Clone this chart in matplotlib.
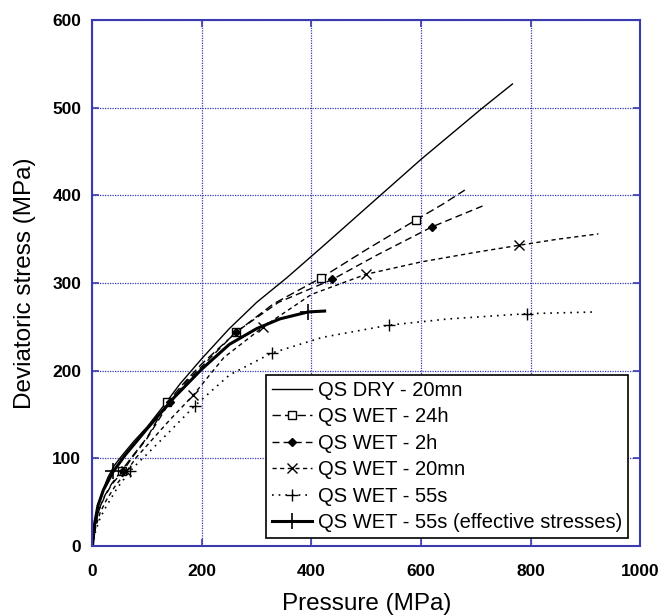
import numpy as np
import matplotlib
matplotlib.use("Agg")
import matplotlib.pyplot as plt

plt.rcParams["font.family"] = ["Liberation Sans", "DejaVu Sans"]

# Quasi-static triaxial tests: deviatoric stress vs mean pressure (MPa)
dry_x = [0, 4, 10, 18, 28, 40, 55, 75, 100, 130, 160, 200, 250, 300, 355, 421, 524, 600, 711, 767]
dry_y = [0, 25, 45, 62, 78, 92, 104, 119, 136, 160, 185, 214, 248, 278, 306, 342, 399, 441, 499, 527]

wet24h_x = [0, 5, 12, 22, 35, 53, 75, 100, 137, 170, 200, 263, 330, 418, 500, 591, 640, 680]
wet24h_y = [0, 24, 42, 57, 71, 86, 104, 124, 164, 188, 208, 244, 276, 306, 338, 372, 390, 406]
wet24h_mk = [53, 137, 263, 418, 591]

wet2h_x = [0, 5, 12, 22, 35, 55, 75, 100, 141, 170, 200, 262, 340, 438, 520, 620, 717]
wet2h_y = [0, 23, 41, 56, 70, 85, 103, 123, 164, 186, 205, 244, 278, 304, 332, 364, 389]
wet2h_mk = [55, 141, 262, 438, 620]

wet20_x = [0, 6, 14, 25, 40, 62, 80, 100, 140, 184, 240, 312, 400, 500, 600, 700, 779, 850, 924]
wet20_y = [0, 22, 38, 52, 67, 85, 101, 115, 143, 172, 215, 250, 287, 310, 324, 335, 343, 350, 356]
wet20_mk = [62, 184, 312, 500, 779]

wet55_x = [0, 6, 14, 25, 45, 68, 85, 100, 140, 187, 250, 327, 420, 542, 650, 793, 921]
wet55_y = [0, 18, 32, 45, 66, 85, 96, 105, 130, 160, 195, 220, 238, 252, 259, 265, 267]
wet55_mk = [68, 187, 327, 542, 793]

eff_x = [0, 4, 10, 20, 38, 60, 100, 150, 200, 250, 300, 342, 394, 424]
eff_y = [0, 26, 46, 64, 85, 104, 134, 170, 202, 230, 248, 259, 267, 268]
eff_mk = [38, 394]

labels = ["QS DRY - 20mn", "QS WET - 24h", "QS WET - 2h", "QS WET - 20mn",
          "QS WET - 55s", "QS WET - 55s (effective stresses)"]

blue = "#3b3bb0"

fig = plt.figure(figsize=(6.62, 6.15), dpi=100)
ax = fig.add_axes([0.1397, 0.1122, 0.8271, 0.8553])


def marks(xs, mk):
    return list(np.nonzero(np.isin(xs, mk))[0])


ax.plot(dry_x, dry_y, color="black", lw=1.0, label=labels[0])
ax.plot(wet24h_x, wet24h_y, color="black", lw=1.0, ls=(0, (6, 3)), marker="s",
        ms=6, mfc="white", mec="black", mew=1.0, markevery=marks(wet24h_x, wet24h_mk), label=labels[1])
ax.plot(wet2h_x, wet2h_y, color="black", lw=1.0, ls=(0, (5, 3)), marker="D",
        ms=4, mfc="black", markevery=marks(wet2h_x, wet2h_mk), label=labels[2])
ax.plot(wet20_x, wet20_y, color="black", lw=1.0, ls=(0, (3, 2.5)), marker="x",
        ms=7, mew=1.0, markevery=marks(wet20_x, wet20_mk), label=labels[3])
ax.plot(wet55_x, wet55_y, color="black", lw=1.2, ls=(0, (1, 3)), marker="+",
        ms=9, mew=1.0, markevery=marks(wet55_x, wet55_mk), label=labels[4])
ax.plot(eff_x, eff_y, color="black", lw=2.2, marker="+", ms=11, mew=1.2,
        markevery=marks(eff_x, eff_mk), label=labels[5])

ax.set_xlim(0, 1000)
ax.set_ylim(0, 600)
ax.set_xticks(np.arange(0, 1001, 200))
ax.set_yticks(np.arange(0, 601, 100))
ax.grid(True, color=blue, ls=(0, (1, 1)), lw=0.9)
for s in ax.spines.values():
    s.set_color(blue)
    s.set_linewidth(1.5)
ax.tick_params(direction="in", length=5, width=1.2, color=blue, top=True, right=True,
               labelsize=12.5)
ax.tick_params(axis="x", pad=13)
ax.tick_params(axis="y", pad=8)
for t in ax.get_xticklabels() + ax.get_yticklabels():
    t.set_fontweight("bold")

ax.set_xlabel("Pressure (MPa)", fontsize=17.5, labelpad=10)
ax.set_ylabel("Deviatoric stress (MPa)", fontsize=17.5, labelpad=12)

leg = ax.legend(loc="lower right", bbox_to_anchor=(0.978, 0.015), borderaxespad=0,
                fontsize=14.5, fancybox=False, edgecolor="black", framealpha=1,
                numpoints=1, handlelength=1.95, handletextpad=0.3, labelspacing=0.37,
                borderpad=0.3)
leg.get_frame().set_linewidth(1.2)

fig.savefig("out.png", dpi=100)
